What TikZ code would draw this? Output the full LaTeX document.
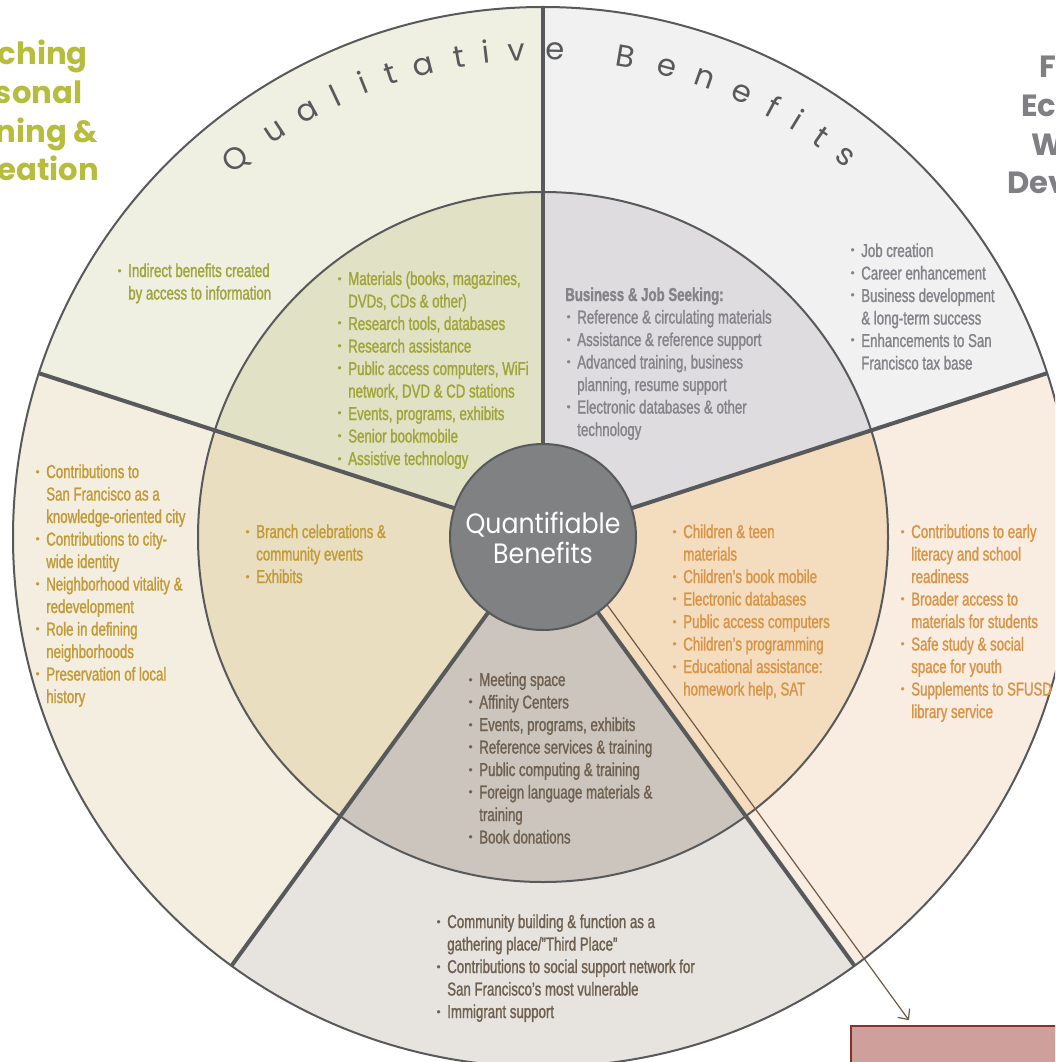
\documentclass[tikz,border=0pt]{standalone}
\usepackage{fontspec}
\setmainfont{Liberation Sans}[FakeStretch=0.71,FakeBold=1.3]
\newfontfamily\geofont{Poppins}
\newfontfamily\geonarrow{Poppins}[FakeStretch=0.9]
\newfontfamily\bulfont{DejaVu Sans}
\usetikzlibrary{calc,arrows.meta}
\definecolor{oA}{HTML}{EFEFE2}\definecolor{iA}{HTML}{E1E1C5}
\definecolor{oE}{HTML}{F1F1F1}\definecolor{iE}{HTML}{DEDCDF}
\definecolor{oD}{HTML}{F9ECE0}\definecolor{iD}{HTML}{F4DCBF}
\definecolor{oC}{HTML}{E7E4DF}\definecolor{iC}{HTML}{CCC5BE}
\definecolor{oB}{HTML}{F4EEE0}\definecolor{iB}{HTML}{E9DEC0}
\definecolor{ctr}{HTML}{808183}
\definecolor{ln}{HTML}{58595B}
\definecolor{olivet}{HTML}{A0A53A}
\definecolor{grayt}{HTML}{848389}
\definecolor{goldt}{HTML}{C29B38}
\definecolor{orant}{HTML}{D89548}
\definecolor{brownt}{HTML}{6F6151}
\definecolor{cornol}{HTML}{B6BC3C}
\definecolor{corngr}{HTML}{7F7F84}
\definecolor{arrc}{HTML}{6E5B48}
\definecolor{boxfill}{HTML}{CFA09B}
\definecolor{boxred}{HTML}{8B2E2E}
\newcommand\bi{\makebox[9pt][l]{\raisebox{1.5pt}{\bulfont\fontsize{8.5}{8.5}\selectfont •}}}
\newcommand\ci{\hspace{9pt}}
\newcommand\bl[1]{\begin{tabular}[t]{@{}l@{}}#1\end{tabular}}
\newcommand\cl[1]{\begin{tabular}[t]{@{}c@{}}#1\end{tabular}}
\begin{document}
\begin{tikzpicture}[x=0.75pt,y=0.75pt,
  txt/.style={anchor=base west,inner sep=0pt,font=\fontsize{14}{16.875}\selectfont},
  radial/.style={draw=ln,line width=3pt},
  rim/.style={draw=ln,line width=1.5pt},
  arcl/.style={anchor=base,inner sep=0pt,text=ln,font=\geofont\fontsize{23}{23}\selectfont},
  corner/.style={anchor=base,inner sep=0pt,font=\geofont\bfseries\fontsize{23}{28.9}\selectfont}]
\useasboundingbox (0,0) rectangle (1055,-1062);
\clip (0,0) rectangle (1055,-1062);
\begin{scope}[shift={(543,-537)}]
  % outer sectors
  \fill[oA] (0,0) -- (90:530) arc[start angle=90,end angle=162,radius=530] -- cycle;
  \fill[oB] (0,0) -- (162:530) arc[start angle=162,end angle=234,radius=530] -- cycle;
  \fill[oC] (0,0) -- (234:530) arc[start angle=234,end angle=306,radius=530] -- cycle;
  \fill[oD] (0,0) -- (306:530) arc[start angle=306,end angle=378,radius=530] -- cycle;
  \fill[oE] (0,0) -- (18:530) arc[start angle=18,end angle=90,radius=530] -- cycle;
  % inner sectors
  \fill[iA] (0,0) -- (90:345) arc[start angle=90,end angle=162,radius=345] -- cycle;
  \fill[iB] (0,0) -- (162:345) arc[start angle=162,end angle=234,radius=345] -- cycle;
  \fill[iC] (0,0) -- (234:345) arc[start angle=234,end angle=306,radius=345] -- cycle;
  \fill[iD] (0,0) -- (306:345) arc[start angle=306,end angle=378,radius=345] -- cycle;
  \fill[iE] (0,0) -- (18:345) arc[start angle=18,end angle=90,radius=345] -- cycle;
  \draw[rim] (0,0) circle[radius=530];
  \draw[rim] (0,0) circle[radius=345];
  \foreach \a in {90,162,234,306,18} \draw[radial] (\a:90) -- (\a:530);
  % arrow ends
  \coordinate (aS) at ($(36:12)+(306:92)$);
  \coordinate (aE) at ($(36:12)+(306:606)$);
  % curved title
  \foreach \a/\l in {129.1/Q,123.5/u,119.0/a,115.2/l,111.6/i,108.2/t,104.3/a,99.9/t,96.7/i,93.1/v,88.6/e,80.3/B,75.2/e,70.6/n,65.9/e,61.8/f,58.6/i,55.2/t,51.5/s}
    \node[arcl,rotate=\a-90] at (\a:477) {\l};
\end{scope}
\draw[arrc,line width=0.9pt,-{Straight Barb[length=6pt,width=11pt]}] (aS) -- (aE);
% center circle
\node[circle,minimum size=139.5pt,inner sep=0pt,fill=ctr,draw=ln,line width=1.5pt] (qb) at (543,-537) {};
\node[anchor=base,inner sep=0pt,text=white,font=\geonarrow\fontsize{21}{21.75}\selectfont] (qbt) at (543,-533) {\cl{Quantifiable\\Benefits}};
% texts
\node[txt,text=olivet] (t1) at (116,-277) {\bl{\bi Indirect benefits created\\ \ci by access to information}};
\node[txt,text=olivet] (t2) at (336,-285) {\bl{\bi Materials (books, magazines,\\ \ci DVDs, CDs \& other)\\ \bi Research tools, databases\\ \bi Research assistance\\ \bi Public access computers, WiFi\\ \ci network, DVD \& CD stations\\ \bi Events, programs, exhibits\\ \bi Senior bookmobile\\ \bi Assistive technology}};
\node[txt,text=grayt] (t3) at (565,-301) {\bl{\textbf{Business \& Job Seeking:}\\ \bi Reference \& circulating materials\\ \bi Assistance \& reference support\\ \bi Advanced training, business\\ \ci planning, resume support\\ \bi Electronic databases \& other\\ \ci technology}};
\node[txt,text=grayt] (t4) at (849,-257) {\bl{\bi Job creation\\ \bi Career enhancement\\ \bi Business development\\ \ci \& long-term success\\ \bi Enhancements to San\\ \ci Francisco tax base}};
\node[txt,text=goldt] (t5) at (34,-478) {\bl{\bi Contributions to\\ \ci San Francisco as a\\ \ci knowledge-oriented city\\ \bi Contributions to city-\\ \ci wide identity\\ \bi Neighborhood vitality \&\\ \ci redevelopment\\ \bi Role in defining\\ \ci neighborhoods\\ \bi Preservation of local\\ \ci history}};
\node[txt,text=goldt] (t6) at (244,-538) {\bl{\bi Branch celebrations \&\\ \ci community events\\ \bi Exhibits}};
\node[txt,text=orant] (t7) at (671,-538) {\bl{\bi Children \& teen\\ \ci materials\\ \bi Children’s book mobile\\ \bi Electronic databases\\ \bi Public access computers\\ \bi Children’s programming\\ \bi Educational assistance:\\ \ci homework help, SAT}};
\node[txt,text=orant] (t8) at (899,-538) {\bl{\bi Contributions to early\\ \ci literacy and school\\ \ci readiness\\ \bi Broader access to\\ \ci materials for students\\ \bi Safe study \& social\\ \ci space for youth\\ \bi Supplements to SFUSD\\ \ci library service}};
\node[txt,text=brownt] (t9) at (467,-686) {\bl{\bi Meeting space\\ \bi Affinity Centers\\ \bi Events, programs, exhibits\\ \bi Reference services \& training\\ \bi Public computing \& training\\ \bi Foreign language materials \&\\ \ci training\\ \bi Book donations}};
\node[txt,text=brownt] (t10) at (435,-928) {\bl{\bi Community building \& function as a\\ \ci gathering place/”Third Place”\\ \bi Contributions to social support network for\\ \ci San Francisco’s most vulnerable\\ \bi Immigrant support}};
% corner labels
\node[corner,text=cornol] (cl) at (13,-65) {\cl{Enriching\\Personal\\Learning \&\\Recreation}};
\node[corner,text=corngr] (cr) at (1114,-78) {\cl{Fostering\\Economic \&\\Workforce\\Development}};
% box
\node[draw=boxred,fill=boxfill,line width=1.5pt,minimum width=225pt,minimum height=90pt,anchor=north west,inner sep=0pt] (conf) at (850,-1025) {};
\end{tikzpicture}
\end{document}
